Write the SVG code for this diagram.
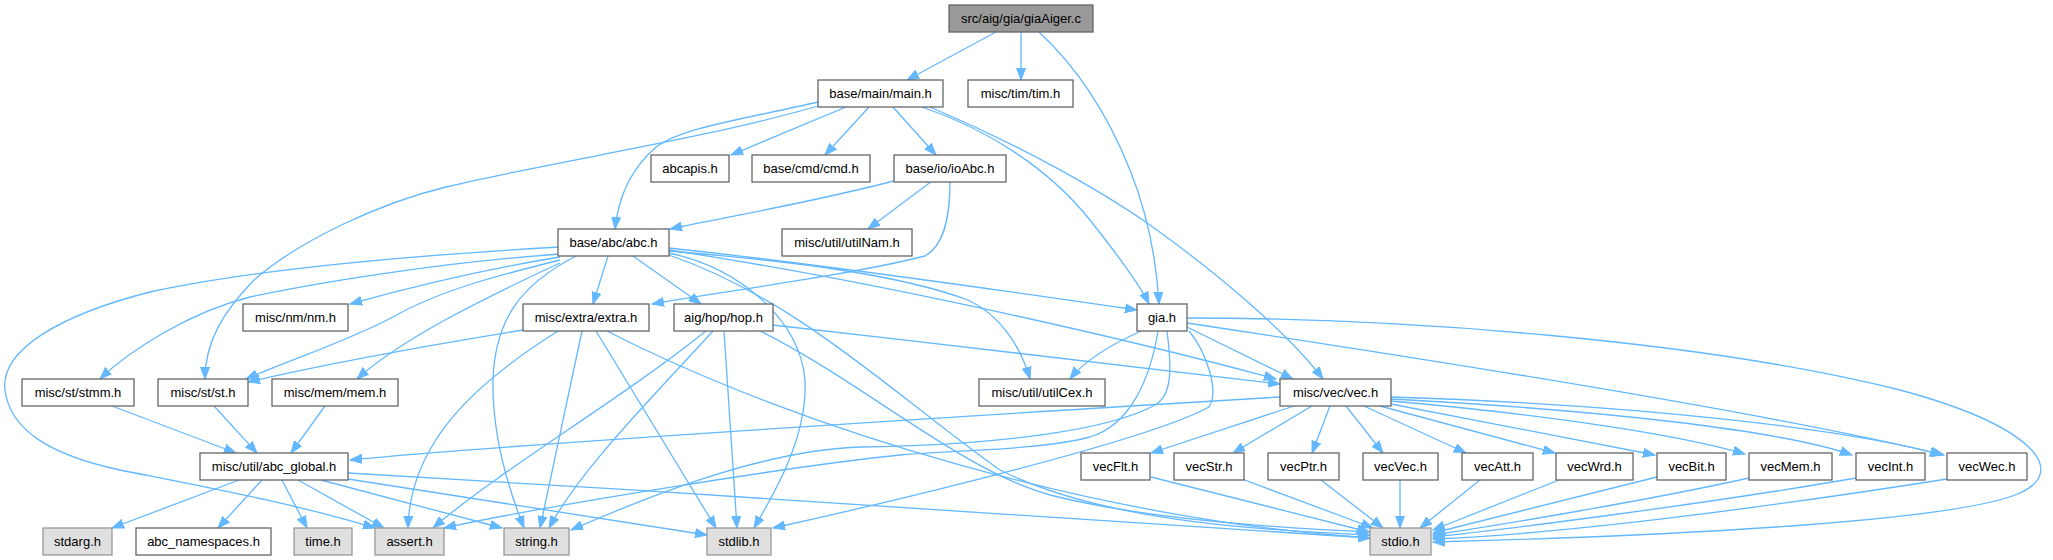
<svg xmlns="http://www.w3.org/2000/svg" width="2053" height="560" viewBox="0 0 2053 560">
<style>
.n rect{fill:#ffffff;stroke:#666666;stroke-width:1.3}
.s rect{fill:#e0e0e0;stroke:#999999;stroke-width:1.3}
.r rect{fill:#999999;stroke:#666666;stroke-width:1.3}
text{font-family:"Liberation Sans",Arial,sans-serif;font-size:13px;fill:#000;text-anchor:middle}
.e path{fill:none;stroke:#63b8ff;stroke-width:1.3;marker-end:url(#a)}
</style>
<defs>
<marker id="a" markerWidth="13" markerHeight="10" refX="12" refY="5" orient="auto" markerUnits="userSpaceOnUse"><path d="M0,0.5 L12,5 L0,9.5 z" fill="#63b8ff" stroke="#63b8ff" stroke-width="1"/></marker>
</defs>
<rect width="2053" height="560" fill="#ffffff"/>
<g class="e" id="edges">
<path d="M996,32 L907,80"/>
<path d="M1021,32 L1021,80"/>
<path d="M1039,32 C1080,70 1110,120 1130,170 C1150,220 1157,270 1159,304"/>
<path d="M846,107 L731,155"/>
<path d="M869,107 L825,155"/>
<path d="M893,107 L936,155"/>
<path d="M818,102 C740,120 680,128 655,148 C630,170 618,200 615,229"/>
<path d="M818,106 C700,140 560,160 446,187 C380,203 300,240 254,280 C225,310 205,340 205,379"/>
<path d="M922,107 C990,130 1050,170 1090,220 C1120,258 1140,285 1149,304"/>
<path d="M930,107 C1020,145 1100,190 1150,225 C1220,275 1290,335 1323,379"/>
<path d="M894,181 C800,205 720,218 670,229"/>
<path d="M932,181 L868,229"/>
<path d="M950,181 C950,215 945,245 925,256 C850,275 720,292 652,304"/>
<path d="M608,256 L593,304"/>
<path d="M633,256 L701,304"/>
<path d="M669,248 C800,262 1000,290 1137,310"/>
<path d="M669,250 C900,285 1150,345 1276,379"/>
<path d="M669,251 C800,262 900,275 968,300 C1000,315 1020,345 1030,379"/>
<path d="M560,257 C480,270 400,290 350,304"/>
<path d="M560,260 C500,275 440,290 393,317 C350,340 290,360 246,379"/>
<path d="M560,254 C450,262 330,280 250,297 C190,312 130,350 100,379"/>
<path d="M560,263 C480,300 400,340 357,379"/>
<path d="M560,247 C420,255 260,268 150,292 C60,315 0,350 5,390 C10,430 50,455 120,470 C220,490 300,505 375,528"/>
<path d="M576,256 C520,285 495,320 493,380 C492,430 505,480 524,528"/>
<path d="M669,253 C740,268 800,320 805,380 C808,440 770,500 754,528"/>
<path d="M669,255 C800,300 900,400 1000,470 C1100,520 1250,530 1370,535"/>
<path d="M773,325 C950,345 1150,368 1280,384"/>
<path d="M706,331 C620,400 500,470 433,528"/>
<path d="M713,331 C650,400 580,470 549,528"/>
<path d="M724,331 L737,528"/>
<path d="M760,331 C860,380 960,470 1050,495 C1150,520 1280,528 1370,532"/>
<path d="M523,330 C400,350 300,370 248,382"/>
<path d="M558,331 C480,380 410,440 408,528"/>
<path d="M582,331 L540,528"/>
<path d="M596,331 L716,528"/>
<path d="M607,331 C800,430 1100,520 1370,538"/>
<path d="M1141,331 C1110,345 1085,360 1070,379"/>
<path d="M1187,327 L1293,379"/>
<path d="M1187,323 C1500,370 1800,420 1944,455"/>
<path d="M1187,318 C1400,318 1700,340 1900,390 C2030,425 2070,470 2020,493 C1960,520 1700,535 1433,542"/>
<path d="M1158,331 C1150,380 1130,425 1090,437 C1040,450 960,450 900,455 C800,465 550,505 444,528"/>
<path d="M1167,331 C1172,370 1172,395 1155,405 C1110,430 1000,445 861,447 C760,450 640,500 571,530"/>
<path d="M1189,331 C1205,350 1220,390 1209,407 C1150,440 900,500 773,528"/>
<path d="M1280,397 C900,420 500,445 350,460"/>
<path d="M1294,406 L1151,453"/>
<path d="M1312,406 L1233,453"/>
<path d="M1330,406 L1312,453"/>
<path d="M1346,406 L1383,453"/>
<path d="M1364,406 L1466,453"/>
<path d="M1380,406 L1555,453"/>
<path d="M1391,404 L1655,455"/>
<path d="M1391,401 C1550,415 1680,435 1745,454"/>
<path d="M1391,399 C1600,410 1780,430 1852,455"/>
<path d="M1391,397 C1650,405 1850,430 1942,455"/>
<path d="M1151,477 L1369,532"/>
<path d="M1242,479 L1373,528"/>
<path d="M1321,480 L1383,528"/>
<path d="M1400,480 L1400,528"/>
<path d="M1480,480 L1420,528"/>
<path d="M1559,480 L1433,530"/>
<path d="M1657,477 L1433,533"/>
<path d="M1749,478 C1650,500 1500,525 1433,535"/>
<path d="M1856,478 C1700,505 1500,530 1433,537"/>
<path d="M1947,479 C1750,510 1550,535 1433,539"/>
<path d="M112,406 L236,453"/>
<path d="M214,406 L257,453"/>
<path d="M325,406 L291,453"/>
<path d="M239,480 L112,528"/>
<path d="M262,480 L218,528"/>
<path d="M282,480 L307,528"/>
<path d="M298,480 L384,528"/>
<path d="M321,480 L502,528"/>
<path d="M348,479 L707,535"/>
<path d="M348,473 C700,493 1100,520 1370,538"/>
</g>
<g id="n_giaAiger" class="r"><rect x="949" y="5" width="144" height="27"/><text x="1021" y="23">src/aig/gia/giaAiger.c</text></g>
<g id="n_main" class="n"><rect x="818" y="80" width="125" height="27"/><text x="880.5" y="98">base/main/main.h</text></g>
<g id="n_tim" class="n"><rect x="968" y="80" width="105" height="27"/><text x="1020.5" y="98">misc/tim/tim.h</text></g>
<g id="n_abcapis" class="n"><rect x="651" y="155" width="78" height="27"/><text x="690" y="173">abcapis.h</text></g>
<g id="n_cmd" class="n"><rect x="752" y="155" width="118" height="27"/><text x="811" y="173">base/cmd/cmd.h</text></g>
<g id="n_ioAbc" class="n"><rect x="894" y="155" width="112" height="27"/><text x="950" y="173">base/io/ioAbc.h</text></g>
<g id="n_abc" class="n"><rect x="558" y="229" width="111" height="27"/><text x="613.5" y="247">base/abc/abc.h</text></g>
<g id="n_utilNam" class="n"><rect x="782" y="229" width="130" height="27"/><text x="847" y="247">misc/util/utilNam.h</text></g>
<g id="n_nm" class="n"><rect x="243" y="304" width="105" height="27"/><text x="295.5" y="322">misc/nm/nm.h</text></g>
<g id="n_extra" class="n"><rect x="523" y="304" width="126" height="27"/><text x="586" y="322">misc/extra/extra.h</text></g>
<g id="n_hop" class="n"><rect x="674" y="304" width="99" height="27"/><text x="723.5" y="322">aig/hop/hop.h</text></g>
<g id="n_gia" class="n"><rect x="1137" y="304" width="50" height="27"/><text x="1162" y="322">gia.h</text></g>
<g id="n_stmm" class="n"><rect x="22" y="379" width="112" height="27"/><text x="78" y="397">misc/st/stmm.h</text></g>
<g id="n_st" class="n"><rect x="158" y="379" width="90" height="27"/><text x="203" y="397">misc/st/st.h</text></g>
<g id="n_mem" class="n"><rect x="272" y="379" width="126" height="27"/><text x="335" y="397">misc/mem/mem.h</text></g>
<g id="n_utilCex" class="n"><rect x="979" y="379" width="126" height="27"/><text x="1042" y="397">misc/util/utilCex.h</text></g>
<g id="n_vec" class="n"><rect x="1280" y="379" width="111" height="27"/><text x="1335.5" y="397">misc/vec/vec.h</text></g>
<g id="n_abc_global" class="n"><rect x="200" y="453" width="148" height="27"/><text x="274" y="471">misc/util/abc_global.h</text></g>
<g id="n_vecFlt" class="n"><rect x="1081" y="453" width="69" height="27"/><text x="1115.5" y="471">vecFlt.h</text></g>
<g id="n_vecStr" class="n"><rect x="1174" y="453" width="70" height="27"/><text x="1209" y="471">vecStr.h</text></g>
<g id="n_vecPtr" class="n"><rect x="1268" y="453" width="71" height="27"/><text x="1303.5" y="471">vecPtr.h</text></g>
<g id="n_vecVec" class="n"><rect x="1363" y="453" width="75" height="27"/><text x="1400.5" y="471">vecVec.h</text></g>
<g id="n_vecAtt" class="n"><rect x="1462" y="453" width="71" height="27"/><text x="1497.5" y="471">vecAtt.h</text></g>
<g id="n_vecWrd" class="n"><rect x="1556" y="453" width="77" height="27"/><text x="1594.5" y="471">vecWrd.h</text></g>
<g id="n_vecBit" class="n"><rect x="1657" y="453" width="69" height="27"/><text x="1691.5" y="471">vecBit.h</text></g>
<g id="n_vecMem" class="n"><rect x="1749" y="453" width="83" height="27"/><text x="1790.5" y="471">vecMem.h</text></g>
<g id="n_vecInt" class="n"><rect x="1856" y="453" width="69" height="27"/><text x="1890.5" y="471">vecInt.h</text></g>
<g id="n_vecWec" class="n"><rect x="1947" y="453" width="80" height="27"/><text x="1987" y="471">vecWec.h</text></g>
<g id="n_stdarg" class="s"><rect x="43" y="528" width="69" height="27"/><text x="77.5" y="546">stdarg.h</text></g>
<g id="n_abc_namespaces" class="n"><rect x="136" y="528" width="135" height="27"/><text x="203.5" y="546">abc_namespaces.h</text></g>
<g id="n_time" class="s"><rect x="294" y="528" width="58" height="27"/><text x="323" y="546">time.h</text></g>
<g id="n_assert" class="s"><rect x="375" y="528" width="69" height="27"/><text x="409.5" y="546">assert.h</text></g>
<g id="n_string" class="s"><rect x="504" y="528" width="65" height="27"/><text x="536.5" y="546">string.h</text></g>
<g id="n_stdlib" class="s"><rect x="707" y="528" width="64" height="27"/><text x="739" y="546">stdlib.h</text></g>
<g id="n_stdio" class="s"><rect x="1370" y="528" width="61" height="27"/><text x="1400.5" y="546">stdio.h</text></g>
</svg>
